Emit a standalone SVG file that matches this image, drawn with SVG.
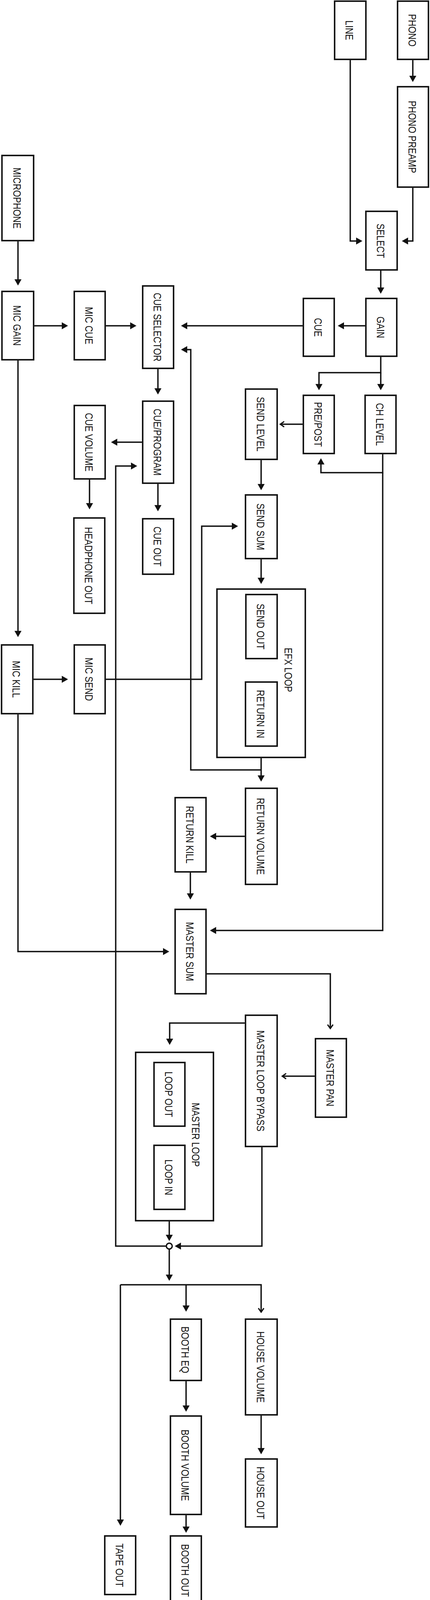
<svg xmlns="http://www.w3.org/2000/svg" width="1100" height="4112" viewBox="0 0 1100 4112">
<style>
.bg{fill:#ffffff}
.box{fill:#ffffff;stroke:#111111;stroke-width:3.8}
.grp{fill:none;stroke:#111111;stroke-width:3.8}
.lbl{font-family:"Liberation Sans",Arial,sans-serif;font-size:28px;fill:#111111;text-anchor:middle}
.ln{fill:none;stroke:#111111;stroke-width:3.5;stroke-linejoin:miter}
.fa{marker-end:url(#af)}
.oa{marker-end:url(#ao)}
</style>
<defs>
<marker id="af" markerUnits="userSpaceOnUse" markerWidth="17" markerHeight="19" viewBox="0 0 17 19" refX="10" refY="9" orient="auto">
<path d="M0,0 L16,9 L0,18 z" fill="#111111"/>
</marker>
<marker id="ao" markerUnits="userSpaceOnUse" markerWidth="18" markerHeight="22" viewBox="-14 -11 18 22" refX="0" refY="0" orient="auto">
<path d="M-10,-7 L0,0 L-10,7" fill="none" stroke="#111111" stroke-width="3.2"/>
</marker>
</defs>
<rect class="bg" x="0" y="0" width="1100" height="4112"/>

<g id="connectors">
<path class="ln fa" d="M1056,154 V204"/>
<path class="ln fa" d="M896,154 V617 H921"/>
<path class="ln fa" d="M1056,481 V617 H1034"/>
<path class="ln fa" d="M46,618 V725"/>
<path class="ln fa" d="M974,692 V746"/>
<path class="ln fa" d="M88,834 H168"/>
<path class="ln fa" d="M271,834 H343"/>
<path class="ln fa" d="M934,834 H870"/>
<path class="ln fa" d="M774,834 H469"/>
<path class="ln fa" d="M974,914 V954 H816 V993"/>
<path class="ln fa" d="M974,954 V993"/>
<path class="ln oa" d="M774,1086 H717"/>
<path class="ln fa" d="M979,1163 V1210 H821 V1179"/>
<path class="ln fa" d="M979,1210 V2382 H543"/>
<path class="ln fa" d="M404,945 V1004"/>
<path class="ln fa" d="M363,1132 H290"/>
<path class="ln fa" d="M229,1228 V1298"/>
<path class="ln fa" d="M404,1239 V1303"/>
<path class="ln fa" d="M668,1178 V1249"/>
<path class="ln fa" d="M271,1739 H516 V1347 H603"/>
<path class="ln fa" d="M668,1432 V1489"/>
<path class="ln fa" d="M668,1941 V1995"/>
<path class="ln fa" d="M668,1971 H488 V895 H469"/>
<path class="ln fa" d="M46,923 V1625"/>
<path class="ln fa" d="M86,1739 H168"/>
<path class="ln fa" d="M424,3190 H296 V1193 H345"/>
<path class="ln fa" d="M626,2141 H543"/>
<path class="ln fa" d="M487,2234 V2297"/>
<path class="ln fa" d="M46,1829 V2436 H427"/>
<path class="ln oa" d="M529,2493 H845 V2633"/>
<path class="ln oa" d="M805,2755 H722"/>
<path class="ln fa" d="M626,2619 H434 V2669"/>
<path class="ln fa" d="M433,3127 V3171"/>
<path class="ln fa" d="M670,2937 V3190 H453"/>
<path class="ln fa" d="M433,3198 V3273"/>
<path class="ln oa" d="M308,3289 H668 V3359"/>
<path class="ln fa" d="M308,3289 V3900"/>
<path class="ln fa" d="M476,3289 V3352"/>
<path class="ln fa" d="M476,3536 V3608"/>
<path class="ln fa" d="M668,3624 V3717"/>
<path class="ln fa" d="M476,3879 V3918"/>
</g>

<g id="line"><rect class="box" x="856" y="3" width="80" height="149"/><text class="lbl" transform="translate(884,77.5) rotate(90) scale(0.81,1)">LINE</text></g>
<g id="phono"><rect class="box" x="1017" y="3" width="79" height="149"/><text class="lbl" transform="translate(1044.5,77.5) rotate(90) scale(0.81,1)">PHONO</text></g>
<g id="phono-preamp"><rect class="box" x="1017" y="222" width="79" height="257"/><text class="lbl" transform="translate(1044.5,350.5) rotate(90) scale(0.81,1)">PHONO PREAMP</text></g>
<g id="microphone"><rect class="box" x="5" y="398" width="81" height="218"/><text class="lbl" transform="translate(33.5,507) rotate(90) scale(0.81,1)">MICROPHONE</text></g>
<g id="select"><rect class="box" x="936" y="541" width="80" height="150"/><text class="lbl" transform="translate(963.5,616.5) rotate(90) scale(0.81,1)">SELECT</text></g>
<g id="mic-gain"><rect class="box" x="5" y="746" width="81" height="175"/><text class="lbl" transform="translate(33.5,833.5) rotate(90) scale(0.81,1)">MIC GAIN</text></g>
<g id="mic-cue"><rect class="box" x="190" y="746" width="79" height="175"/><text class="lbl" transform="translate(217.5,833.5) rotate(90) scale(0.81,1)">MIC CUE</text></g>
<g id="cue-selector"><rect class="box" x="365" y="732" width="79" height="211"/><text class="lbl" transform="translate(392.5,837.5) rotate(90) scale(0.81,1)">CUE SELECTOR</text></g>
<g id="cue"><rect class="box" x="776" y="764" width="79" height="148"/><text class="lbl" transform="translate(803.5,838) rotate(90) scale(0.81,1)">CUE</text></g>
<g id="gain"><rect class="box" x="936" y="764" width="79" height="148"/><text class="lbl" transform="translate(963.5,838) rotate(90) scale(0.81,1)">GAIN</text></g>
<g id="pre-post"><rect class="box" x="776" y="1012" width="79" height="149"/><text class="lbl" transform="translate(803.5,1086.5) rotate(90) scale(0.81,1)">PRE/POST</text></g>
<g id="ch-level"><rect class="box" x="934" y="1012" width="79" height="149"/><text class="lbl" transform="translate(961.5,1086.5) rotate(90) scale(0.81,1)">CH LEVEL</text></g>
<g id="send-level"><rect class="box" x="628" y="996" width="81" height="180"/><text class="lbl" transform="translate(656.5,1086) rotate(90) scale(0.81,1)">SEND LEVEL</text></g>
<g id="cue-program"><rect class="box" x="365" y="1027" width="79" height="210"/><text class="lbl" transform="translate(392.5,1132) rotate(90) scale(0.81,1)">CUE/PROGRAM</text></g>
<g id="cue-volume"><rect class="box" x="190" y="1038" width="79" height="188"/><text class="lbl" transform="translate(217.5,1132) rotate(90) scale(0.81,1)">CUE VOLUME</text></g>
<g id="headphone-out"><rect class="box" x="189" y="1326" width="79" height="244"/><text class="lbl" transform="translate(216.5,1448) rotate(90) scale(0.81,1)">HEADPHONE OUT</text></g>
<g id="cue-out"><rect class="box" x="365" y="1328" width="79" height="142"/><text class="lbl" transform="translate(392.5,1399) rotate(90) scale(0.81,1)">CUE OUT</text></g>
<g id="send-sum"><rect class="box" x="628" y="1267" width="81" height="163"/><text class="lbl" transform="translate(656.5,1348.5) rotate(90) scale(0.81,1)">SEND SUM</text></g>
<g id="efx-loop"><rect class="grp" x="555" y="1508" width="226" height="431"/><text class="lbl" transform="translate(728,1715) rotate(90) scale(0.81,1)">EFX LOOP</text></g>
<g id="send-out"><rect class="box" x="629" y="1522" width="80" height="164"/><text class="lbl" transform="translate(657,1604) rotate(90) scale(0.81,1)">SEND OUT</text></g>
<g id="return-in"><rect class="box" x="628" y="1746" width="81" height="164"/><text class="lbl" transform="translate(656.5,1828) rotate(90) scale(0.81,1)">RETURN IN</text></g>
<g id="mic-kill"><rect class="box" x="4" y="1651" width="80" height="176"/><text class="lbl" transform="translate(32,1739) rotate(90) scale(0.81,1)">MIC KILL</text></g>
<g id="mic-send"><rect class="box" x="190" y="1651" width="79" height="176"/><text class="lbl" transform="translate(217.5,1739) rotate(90) scale(0.81,1)">MIC SEND</text></g>
<g id="return-volume"><rect class="box" x="628" y="2018" width="81" height="246"/><text class="lbl" transform="translate(656.5,2141) rotate(90) scale(0.81,1)">RETURN VOLUME</text></g>
<g id="return-kill"><rect class="box" x="448" y="2042" width="79" height="190"/><text class="lbl" transform="translate(475.5,2137) rotate(90) scale(0.81,1)">RETURN KILL</text></g>
<g id="master-sum"><rect class="box" x="448" y="2328" width="79" height="216"/><text class="lbl" transform="translate(475.5,2436) rotate(90) scale(0.81,1)">MASTER SUM</text></g>
<g id="master-loop-bypass"><rect class="box" x="628" y="2599" width="81" height="336"/><text class="lbl" transform="translate(656.5,2767) rotate(90) scale(0.81,1)">MASTER LOOP BYPASS</text></g>
<g id="master-pan"><rect class="box" x="807" y="2659" width="79" height="201"/><text class="lbl" transform="translate(834.5,2759.5) rotate(90) scale(0.81,1)">MASTER PAN</text></g>
<g id="master-loop"><rect class="grp" x="347" y="2694" width="199" height="431"/><text class="lbl" transform="translate(491,2905) rotate(90) scale(0.81,1)">MASTER LOOP</text></g>
<g id="loop-out"><rect class="box" x="394" y="2720" width="79" height="163"/><text class="lbl" transform="translate(421.5,2801.5) rotate(90) scale(0.81,1)">LOOP OUT</text></g>
<g id="loop-in"><rect class="box" x="394" y="2932" width="79" height="164"/><text class="lbl" transform="translate(421.5,3014) rotate(90) scale(0.81,1)">LOOP IN</text></g>
<g id="junction"><circle cx="433" cy="3190" r="7.5" fill="#ffffff" stroke="#111111" stroke-width="3.5"/></g>
<g id="booth-eq"><rect class="box" x="436" y="3377" width="79" height="157"/><text class="lbl" transform="translate(463.5,3455.5) rotate(90) scale(0.81,1)">BOOTH EQ</text></g>
<g id="house-volume"><rect class="box" x="628" y="3377" width="81" height="245"/><text class="lbl" transform="translate(656.5,3499.5) rotate(90) scale(0.81,1)">HOUSE VOLUME</text></g>
<g id="booth-volume"><rect class="box" x="436" y="3625" width="79" height="252"/><text class="lbl" transform="translate(463.5,3751) rotate(90) scale(0.81,1)">BOOTH VOLUME</text></g>
<g id="house-out"><rect class="box" x="628" y="3735" width="81" height="174"/><text class="lbl" transform="translate(656.5,3822) rotate(90) scale(0.81,1)">HOUSE OUT</text></g>
<g id="booth-out"><rect class="box" x="436" y="3932" width="79" height="177"/><text class="lbl" transform="translate(463.5,4020.5) rotate(90) scale(0.81,1)">BOOTH OUT</text></g>
<g id="tape-out"><rect class="box" x="268" y="3932" width="79" height="150"/><text class="lbl" transform="translate(295.5,4007) rotate(90) scale(0.81,1)">TAPE OUT</text></g>
</svg>
